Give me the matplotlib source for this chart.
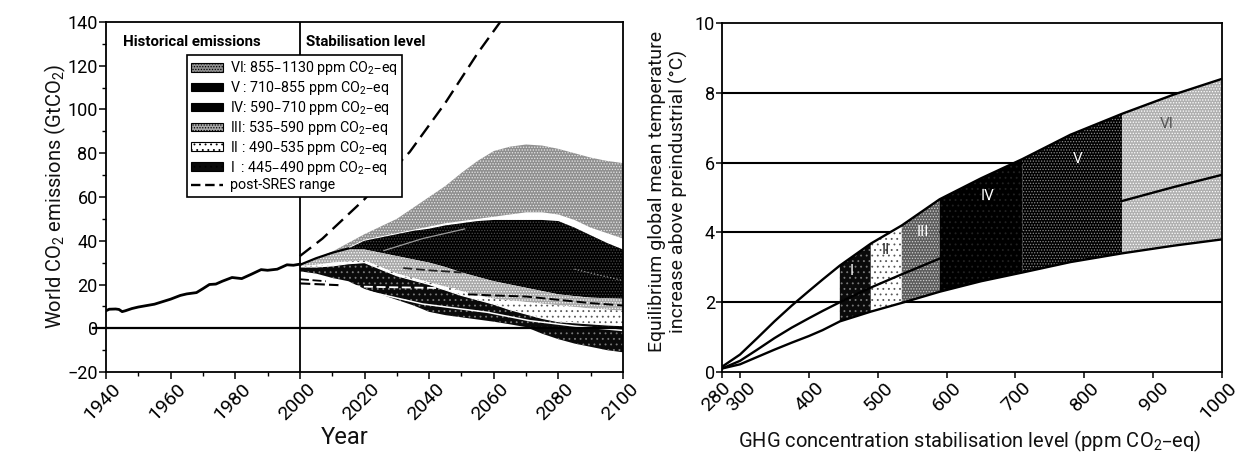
import matplotlib
matplotlib.use("Agg")
import matplotlib.pyplot as plt
from matplotlib.patches import Patch
from matplotlib.lines import Line2D
from matplotlib.transforms import ScaledTranslation
import numpy as np

plt.rcParams["font.family"] = ["Roboto", "Liberation Sans", "DejaVu Sans"]
plt.rcParams["mathtext.default"] = "regular"
plt.rcParams["hatch.linewidth"] = 0.6

W, H = 1247, 461

# ── Left panel data ───────────────────────────────────────────────────────────
hist_years = [1940, 1941, 1943, 1944, 1945, 1946, 1948, 1950, 1955, 1960, 1963, 1965, 1968,
              1970, 1972, 1974, 1976, 1979, 1982, 1985, 1988, 1990, 1993, 1996, 1998, 2000]
hist_values = [8.0, 8.7, 8.8, 8.6, 7.6, 8.0, 9.0, 9.7, 11.0, 13.3, 15.0, 15.7, 16.3,
               18.1, 20.0, 20.2, 21.5, 23.2, 22.7, 24.7, 26.8, 26.5, 27.0, 29.0, 28.8, 29.3]

years = [2000, 2005, 2010, 2015, 2020, 2025, 2030, 2035, 2040, 2045, 2050,
         2055, 2060, 2065, 2070, 2075, 2080, 2085, 2090, 2095, 2100]
vi_top = [29, 32, 35, 39, 43, 46.5, 50, 55, 60, 65, 71, 76.5, 81, 83, 84, 83.5, 82, 80, 78, 76.5, 75.5]
vi_bottom = [29, 32, 34.5, 37, 40.5, 42, 43.5, 45, 46.5, 48, 49, 50, 51, 52, 53, 53, 52, 49.5, 46, 43.5, 41]
v_top = [29, 32, 34.5, 36.5, 40, 41.5, 43, 44.5, 45.5, 47, 48, 49, 49.5, 49.5, 49.5, 49.5, 49, 46, 42.5, 39, 36]
iv_bottom = [29, 32, 34.5, 36, 36, 34.5, 33, 31.5, 30, 28, 25.5, 23.5, 21.5, 20, 18.5, 17, 15.5, 14.7, 14, 13.7, 13.5]
iii_bottom = [28.5, 29, 30, 30.5, 31, 28, 25, 23, 21, 19, 17, 15, 13.5, 12.7, 12, 11.2, 10.5, 9.7, 9, 8.5, 8]
i_top = [28, 28, 28.5, 29.5, 30, 27, 24, 22, 20, 17.5, 15, 13, 11, 8.5, 6.5, 4.5, 3, 2.5, 2, 1.5, 1.2]
i_bottom = [26, 25, 23, 21.5, 18, 15.5, 13, 10.5, 7.5, 6, 5, 4, 3, 1.8, 0.5, -2.5, -5, -7, -8.5, -10, -11]

iv_v_years = [2026, 2038, 2051]
iv_v_line = [35.5, 41, 45.4]
iv_v_late_years = [2085, 2092, 2100]
iv_v_late_line = [27, 24.5, 21.8]
white_years = [2020, 2038, 2058, 2071, 2085, 2100]
white_line = [17.2, 11.1, 7.3, 3.5, 1, -1]

sres_high_years = [2000, 2007, 2020, 2034, 2045, 2055, 2062]
sres_high = [33, 41, 59, 80.6, 103, 125.7, 140]
sres_low_years = [2000, 2012, 2020, 2030, 2040, 2048]
sres_low = [20.5, 19.7, 19, 18.7, 18.5, 18]
sres_low2_years = [2000, 2008]
sres_low2 = [22.4, 21.5]
sres_mid_years = [2032, 2040, 2050]
sres_mid = [27.5, 26.5, 25.5]
sres_late_years = [2052, 2060, 2070, 2080, 2090, 2100]
sres_late = [15.5, 15, 14.5, 13, 11.5, 10.4]

legend_labels = ["VI: 855–1130 ppm CO$_2$–eq", "V : 710–855 ppm CO$_2$–eq",
                 "IV: 590–710 ppm CO$_2$–eq", "III: 535–590 ppm CO$_2$–eq",
                 "II : 490–535 ppm CO$_2$–eq", "I  : 445–490 ppm CO$_2$–eq",
                 "post-SRES range"]

# ── Right panel data ──────────────────────────────────────────────────────────
ppm = [280, 300, 325, 350, 375, 400, 420, 445, 490, 535, 590, 650, 710, 780, 855, 930, 1000]
temp_high = [0.15, 0.5, 0.97, 1.45, 1.9, 2.32, 2.65, 3.05, 3.68, 4.2, 4.95, 5.55, 6.1, 6.8, 7.4, 7.95, 8.4]
temp_mid = [0.1, 0.32, 0.64, 0.97, 1.27, 1.54, 1.75, 2.0, 2.42, 2.8, 3.25, 3.65, 4.03, 4.5, 4.9, 5.3, 5.65]
temp_low = [0.1, 0.22, 0.43, 0.64, 0.84, 1.03, 1.2, 1.45, 1.73, 1.98, 2.3, 2.6, 2.85, 3.15, 3.4, 3.62, 3.8]
class_names = ["I", "II", "III", "IV", "V", "VI"]
class_edges = [445, 490, 535, 590, 710, 855, 1000]
class_label_x = [462, 511, 565, 660, 790, 920]
class_label_y = [2.9, 3.5, 4.0, 5.05, 6.1, 7.1]
x_ticks_right = [280, 300, 400, 500, 600, 700, 800, 900, 1000]

# face, hatch colour, hatch
BAND = {
    "VI": ("#8f8f8f", "#e8e8e8", "......"),
    "V": ("#000000", "#4a4a4a", "......"),
    "IV": ("#000000", "#222222", "..."),
    "III": ("#a8a8a8", "#ffffff", "......"),
    "II": ("#ffffff", "#555555", "..."),
    "I": ("#0a0a0a", "#7a7a7a", "..."),
}
RIGHT_BAND = dict(BAND)
RIGHT_BAND["III"] = ("#5c5c5c", "#d0d0d0", "......")
RIGHT_BAND["V"] = ("#000000", "#8a8a8a", "......")
RIGHT_BAND["VI"] = ("#b0b0b0", "#ffffff", "......")


def axes_px(fig, left, right, top, bottom):
    return fig.add_axes([left / W, 1 - bottom / H, (right - left) / W, (bottom - top) / H])


def slant_labels(fig, axis, skip=()):
    # rotated labels sit a few pixels right of the plain anchored position
    shift = ScaledTranslation(6 / 100, 0, fig.dpi_scale_trans)
    for lab in axis.get_xticklabels():
        lab.set(rotation=45, ha="right", va="top", rotation_mode="anchor")
        if lab.get_text() not in skip:
            lab.set_transform(lab.get_transform() + shift)


fig = plt.figure(figsize=(W / 100, H / 100), dpi=100, facecolor="white")
ax = axes_px(fig, 106, 623, 22, 372)
ax2 = axes_px(fig, 722, 1222, 23, 372)

# ── Left: emissions ───────────────────────────────────────────────────────────
def band(axis, x, low, high, name, styles=BAND):
    face, hcol, hatch = styles[name]
    axis.fill_between(x, low, high, facecolor=face, edgecolor=hcol, hatch=hatch, linewidth=0, zorder=2)


band(ax, years, vi_bottom, vi_top, "VI")
band(ax, years, iv_bottom, v_top, "V")
band(ax, years, iii_bottom, iv_bottom, "III")
band(ax, years, i_top, iii_bottom, "II")
band(ax, years, i_bottom, i_top, "I")

ax.plot(iv_v_years, iv_v_line, color="#9a9a9a", lw=0.9, zorder=3)
ax.plot(iv_v_late_years, iv_v_late_line, color="#9a9a9a", lw=0.9, ls=":", zorder=3)
ax.plot(white_years, white_line, color="white", lw=1.1, zorder=3)
ax.plot(years, i_top, color="white", lw=0.8, zorder=3)

ax.plot(hist_years, hist_values, color="black", lw=2.0, zorder=4)
ax.plot(years[:4], v_top[:4], color="black", lw=1.6, zorder=4)
ax.plot(sres_high_years, sres_high, color="black", lw=1.7, dashes=(6, 3), zorder=4)
ax.plot(sres_low_years[:2], sres_low[:2], color="black", lw=1.5, dashes=(5, 2), zorder=4)
ax.plot(sres_low_years[1:], sres_low[1:], color="white", lw=1.3, dashes=(5, 2), zorder=4)
ax.plot(sres_low2_years, sres_low2, color="black", lw=1.3, dashes=(5, 2), zorder=4)
ax.plot(sres_mid_years, sres_mid, color="#222222", lw=1.3, dashes=(5, 2), zorder=4)
ax.plot(sres_late_years, sres_late, color="black", lw=1.4, dashes=(5, 2), zorder=4)

ax.axhline(0, color="black", lw=1.6, zorder=5)
ax.axvline(2000, color="black", lw=1.3, zorder=5)
ax.plot([1936, 1940], [0, 0], color="black", lw=1.6, clip_on=False, zorder=5)

ax.set_xlim(1940, 2100)
ax.set_ylim(-20, 140)
ax.set_xticks(range(1940, 2101, 20))
ax.set_xticks(range(1950, 2100, 20), minor=True)
ax.set_yticks(range(-20, 141, 20))
ax.set_yticks(range(-10, 140, 20), minor=True)
ax.set_yticklabels(["−20" if v < 0 else str(v) for v in range(-20, 141, 20)])
ax.tick_params(axis="y", which="major", labelsize=13, length=5, width=1.1, pad=1)
ax.tick_params(axis="x", which="major", labelsize=14, length=5, width=1.1, pad=1)
ax.tick_params(which="minor", length=3, width=1.0)
ax.set_xticklabels([str(y) for y in range(1940, 2101, 20)])
slant_labels(fig, ax)

fig.text(55 / W, 1 - 196 / H, "World CO$_2$ emissions (GtCO$_2$)", rotation=90,
         ha="center", va="center", fontsize=14.5, color="#111111")
fig.text(345 / W, 1 - 437 / H, "Year", ha="center", va="center", fontsize=17, color="#111111")

ax.text(1945.3, 131, "Historical emissions", fontsize=10.8, fontweight="bold", va="center", zorder=6)
ax.text(2002, 131, "Stabilisation level", fontsize=10.8, fontweight="bold", va="center", zorder=6)

handles = [Patch(facecolor=BAND[k][0], edgecolor="black", hatch=BAND[k][2], linewidth=0.8)
           for k in ["VI", "V", "IV", "III", "II", "I"]]
handles.append(Line2D([0], [0], color="black", lw=1.7, dashes=(4, 2)))
leg = ax.legend(handles, legend_labels, loc="upper left",
                bbox_to_anchor=((187 - 106) / 517, (372 - 55) / 350), borderaxespad=0,
                fontsize=10.3, labelspacing=0.13, handlelength=2.2, handleheight=0.55,
                handletextpad=0.5, borderpad=0.3, fancybox=False, framealpha=1,
                edgecolor="black")
leg.get_frame().set_linewidth(1.2)
leg.set_zorder(7)

# ── Right: temperature ────────────────────────────────────────────────────────
# 280 sits at the axis corner, a bit off the even spacing of the other ticks
scale_in = [280, 300, 1000]
scale_out = [0, 18.0, 500]
ax2.set_xscale("function", functions=(lambda v: np.interp(v, scale_in, scale_out),
                                      lambda v: np.interp(v, scale_out, scale_in)))

for y in [2, 4, 6, 8]:
    ax2.axhline(y, color="black", lw=1.5, zorder=1)

for name, start, stop in zip(class_names, class_edges[:-1], class_edges[1:]):
    i0, i1 = ppm.index(start), ppm.index(stop)
    band(ax2, ppm[i0:i1 + 1], temp_low[i0:i1 + 1], temp_high[i0:i1 + 1], name, RIGHT_BAND)

ax2.plot(ppm, temp_high, color="black", lw=1.7, zorder=4)
ax2.plot(ppm, temp_low, color="black", lw=1.7, zorder=4)
# the middle curve does not show across the dark classes IV and V
i_iv, i_vi = ppm.index(590), ppm.index(855)
ax2.plot(ppm[:i_iv + 1], temp_mid[:i_iv + 1], color="black", lw=1.7, zorder=4)
ax2.plot(ppm[i_vi:], temp_mid[i_vi:], color="black", lw=1.7, zorder=4)

label_colors = ["white", "#222222", "white", "white", "white", "#555555"]
for name, lx, ly, col in zip(class_names, class_label_x, class_label_y, label_colors):
    ax2.text(lx, ly, name, color=col, fontsize=11, ha="center", va="center", zorder=5)

ax2.set_xlim(280, 1000)
ax2.set_ylim(0, 10)
ax2.set_xticks(x_ticks_right)
ax2.set_xticklabels([str(v) for v in x_ticks_right])
ax2.minorticks_off()
ax2.set_yticks(range(0, 11, 2))
ax2.tick_params(axis="y", which="major", labelsize=13, length=4, width=1.1, pad=1)
ax2.tick_params(axis="x", which="major", labelsize=14, length=4, width=1.1, pad=1)
slant_labels(fig, ax2, skip=("280",))

fig.text(668 / W, 1 - 191 / H, "Equilibrium global mean temperature\nincrease above preindustrial (°C)",
         rotation=90, ha="center", va="center", fontsize=14, linespacing=1.15, color="#111111")
fig.text(970 / W, 1 - 441 / H, "GHG concentration stabilisation level (ppm CO$_2$–eq)",
         ha="center", va="center", fontsize=14.5, color="#111111")

for a in (ax, ax2):
    for s in a.spines.values():
        s.set_linewidth(1.3)
        s.set_zorder(6)

fig.savefig("out.png", dpi=100, facecolor="white")
